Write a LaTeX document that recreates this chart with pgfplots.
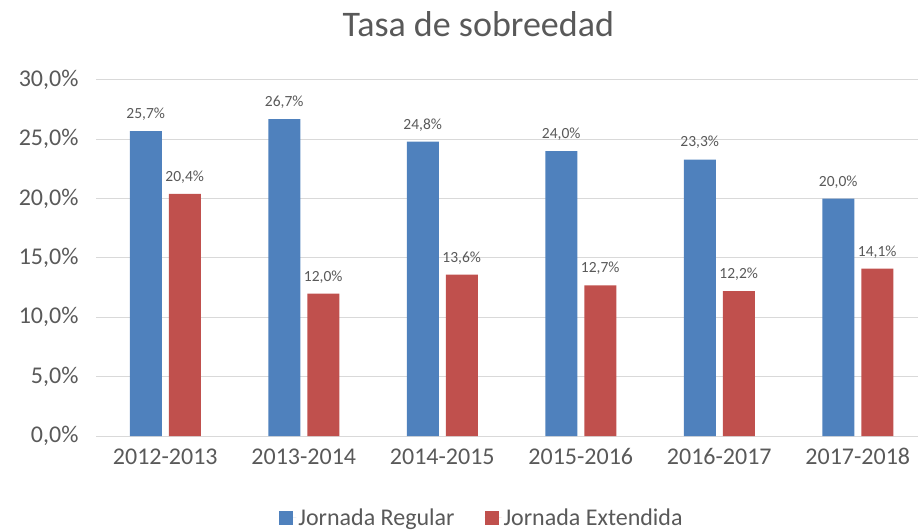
\documentclass[border=0pt]{standalone}
\usepackage{pgfplots}
\pgfplotsset{compat=1.18}
\usepackage{fontspec}
\setmainfont{Carlito}
\definecolor{jreg}{HTML}{4F81BD}
\definecolor{jext}{HTML}{C0504D}
\definecolor{txtgray}{HTML}{595959}
\definecolor{gridgray}{HTML}{D9D9D9}

\begin{document}
\begin{tikzpicture}[x=1pt,y=1pt]
\useasboundingbox (0,0) rectangle (918,530);
\begin{axis}[
    at={(96pt,94pt)}, anchor=south west,
    scale only axis, width=831pt, height=356pt,
    ybar=7pt, bar width=32pt,
    xmin=-0.5, xmax=5.5,
    ymin=0, ymax=30,
    xtick={0,1,2,3,4,5},
    xticklabels={2012-2013,2013-2014,2014-2015,2015-2016,2016-2017,2017-2018},
    ytick={0,5,10,15,20,25,30},
    yticklabel={\pgfmathprintnumber[fixed,fixed zerofill,precision=1,use comma]{\tick}\%},
    /pgf/number format/assume math mode=true,
    axis x line*=bottom,
    axis y line*=left,
    x axis line style={gridgray, line width=1pt},
    y axis line style={draw=none},
    major tick length=0pt,
    ymajorgrids, major grid style={gridgray, line width=1pt},
    tick label style={txtgray},
    xticklabel style={font=\fontsize{24}{28}\selectfont, yshift=-9pt},
    yticklabel style={font=\fontsize{24}{28}\selectfont, xshift=-14pt},
    nodes near coords={\pgfmathprintnumber[fixed,fixed zerofill,precision=1,use comma]{\pgfplotspointmeta}\%},
    every node near coord/.append style={font=\fontsize{15.5}{18}\selectfont, text=txtgray, yshift=7pt},
    title={Tasa de sobreedad},
    title style={font=\fontsize{36}{42}\selectfont, text=txtgray, at={(0.46,1.14)}, anchor=center},
    legend style={at={(0.4645,-0.23)}, anchor=center, draw=none, font=\fontsize{24}{28}\selectfont, text=txtgray,
        /tikz/every even column/.append style={column sep=28pt}},
    legend columns=2,
    legend image code/.code={\fill[#1] (0pt,-7pt) rectangle (14pt,7pt); \path (0pt,0pt) -- (17pt,0pt);},
]
\addplot[fill=jreg, draw=none] coordinates {(0,25.7) (1,26.7) (2,24.8) (3,24.0) (4,23.3) (5,20.0)};
\addplot[fill=jext, draw=none] coordinates {(0,20.4) (1,12.0) (2,13.6) (3,12.7) (4,12.2) (5,14.1)};
\legend{Jornada Regular, Jornada Extendida}
\end{axis}
\end{tikzpicture}
\end{document}
